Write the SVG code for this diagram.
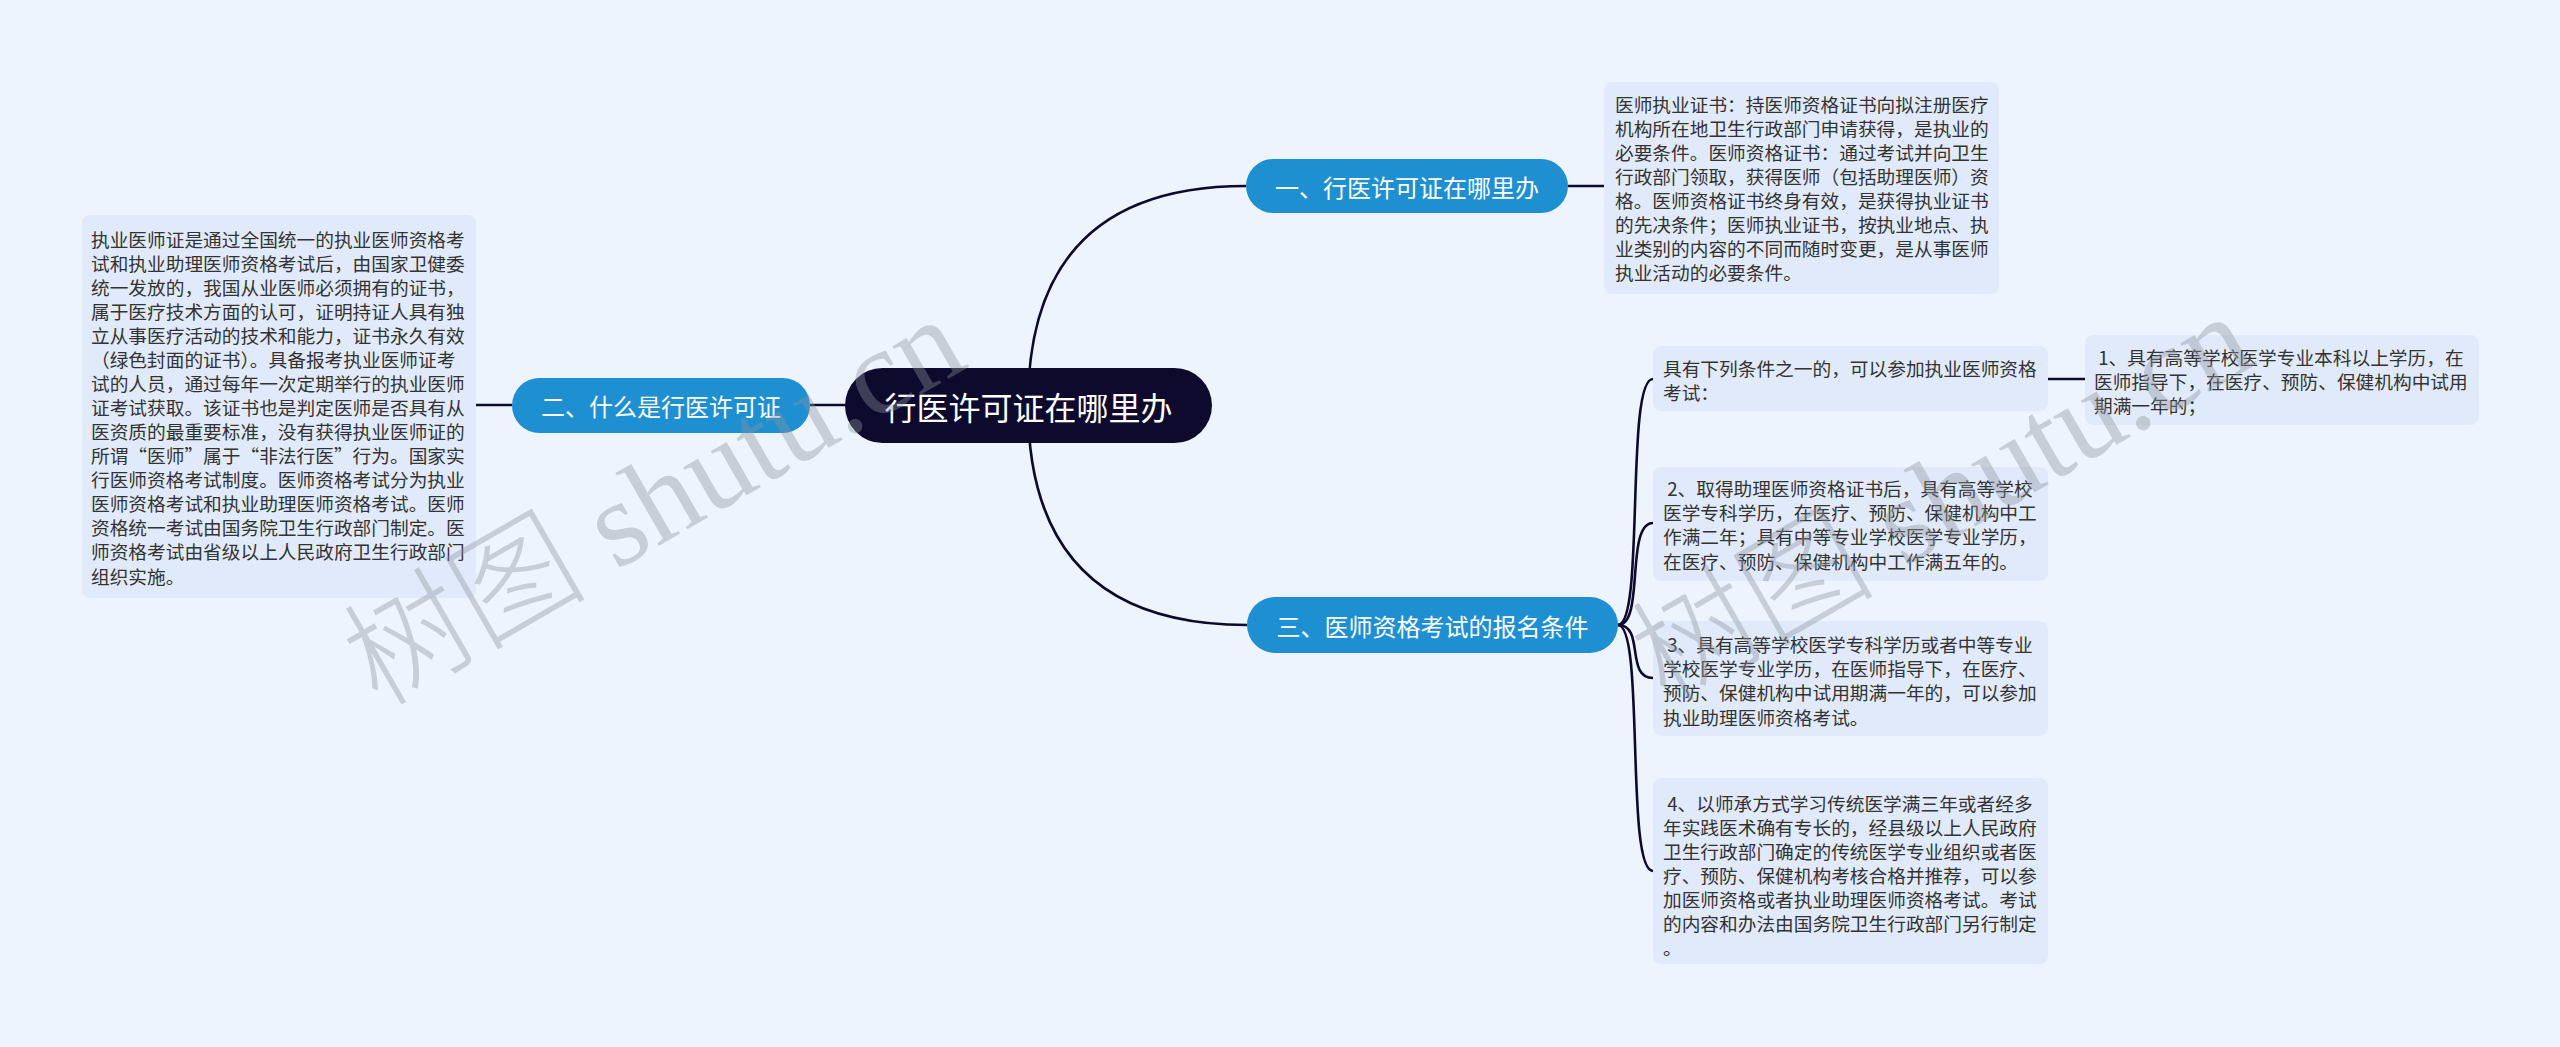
<svg xmlns="http://www.w3.org/2000/svg" width="2560" height="1047" viewBox="0 0 2560 1047">
<style>
.bg{fill:#eef4fe}
.leaf rect{fill:#e1eafa}
.leaf text{font-family:"Noto Sans CJK SC",sans-serif;font-size:18.7px;fill:#333;white-space:pre;dominant-baseline:central}
.branch rect{fill:#1e90d2}
.branch text{font-family:"Noto Sans CJK SC",sans-serif;font-size:24px;fill:#fff;text-anchor:middle;dominant-baseline:central}
.root rect{fill:#0e0a2d}
.root text{font-family:"Noto Sans CJK SC",sans-serif;font-size:32px;fill:#fff;text-anchor:middle;dominant-baseline:central}
#connectors path{fill:none;stroke:#0e0a2d;stroke-width:2.6}
.wm{font-size:122px;fill:#8c929c;opacity:.38}
.wm .cjk{font-family:"Noto Sans CJK SC",sans-serif;font-weight:300}
.wm .lat{font-family:"Liberation Serif",serif}
</style>
<rect class="bg" x="0" y="0" width="2560" height="1047"/>

<g id="connectors">
<path d="M1028 405 Q1028 186 1246 186"/>
<path d="M1028 405 Q1028 625 1247 625"/>
<path d="M810 405 L845 405"/>
<path d="M476 405 L512 405"/>
<path d="M1568 186 L1604 186"/>
<path d="M1618 625 C1645 625 1625 379 1653 379"/>
<path d="M1618 625 C1645 625 1625 523 1653 523"/>
<path d="M1618 625 C1645 625 1625 678 1653 678"/>
<path d="M1618 625 C1645 625 1625 871 1653 871"/>
<path d="M2048 379 L2085 379"/>
</g>

<g id="root" class="root">
<rect x="845" y="368" width="367" height="75" rx="37.5"/>
<text x="1028.5" y="405.5">行医许可证在哪里办</text>
</g>

<g id="branch1" class="branch">
<rect x="1246" y="159" width="322" height="54" rx="27"/>
<text x="1407" y="186">一、行医许可证在哪里办</text>
</g>

<g id="branch2" class="branch">
<rect x="512" y="378" width="298" height="55" rx="27.5"/>
<text x="661" y="405.5">二、什么是行医许可证</text>
</g>

<g id="branch3" class="branch">
<rect x="1247" y="597" width="371" height="56" rx="28"/>
<text x="1432.5" y="625">三、医师资格考试的报名条件</text>
</g>

<g id="leafA" class="leaf">
<rect x="1604" y="82" width="395" height="212" rx="8"/>
<text x="1615" y="103">医师执业证书：持医师资格证书向拟注册医疗</text>
<text x="1615" y="127.1">机构所在地卫生行政部门申请获得，是执业的</text>
<text x="1615" y="151.2">必要条件。医师资格证书：通过考试并向卫生</text>
<text x="1615" y="175.3">行政部门领取，获得医师（包括助理医师）资</text>
<text x="1615" y="199.4">格。医师资格证书终身有效，是获得执业证书</text>
<text x="1615" y="223.5">的先决条件；医师执业证书，按执业地点、执</text>
<text x="1615" y="247.6">业类别的内容的不同而随时变更，是从事医师</text>
<text x="1615" y="271.7">执业活动的必要条件。</text>
</g>

<g id="leafB" class="leaf">
<rect x="82" y="215" width="394" height="383" rx="8"/>
<text x="91" y="238">执业医师证是通过全国统一的执业医师资格考</text>
<text x="91" y="262.1">试和执业助理医师资格考试后，由国家卫健委</text>
<text x="91" y="286.1">统一发放的，我国从业医师必须拥有的证书，</text>
<text x="91" y="310.2">属于医疗技术方面的认可，证明持证人具有独</text>
<text x="91" y="334.3">立从事医疗活动的技术和能力，证书永久有效</text>
<text x="91" y="358.4">（绿色封面的证书）。具备报考执业医师证考</text>
<text x="91" y="382.4">试的人员，通过每年一次定期举行的执业医师</text>
<text x="91" y="406.5">证考试获取。该证书也是判定医师是否具有从</text>
<text x="91" y="430.6">医资质的最重要标准，没有获得执业医师证的</text>
<text x="91" y="454.6">所谓“医师”属于“非法行医”行为。国家实</text>
<text x="91" y="478.7">行医师资格考试制度。医师资格考试分为执业</text>
<text x="91" y="502.8">医师资格考试和执业助理医师资格考试。医师</text>
<text x="91" y="526.8">资格统一考试由国务院卫生行政部门制定。医</text>
<text x="91" y="550.9">师资格考试由省级以上人民政府卫生行政部门</text>
<text x="91" y="575">组织实施。</text>
</g>

<g id="leafC" class="leaf">
<rect x="1653" y="346" width="395" height="65" rx="8"/>
<text x="1663" y="367">具有下列条件之一的，可以参加执业医师资格</text>
<text x="1663" y="391">考试：</text>
</g>

<g id="leafD" class="leaf">
<rect x="2085" y="335" width="394" height="90" rx="8"/>
<text x="2094" y="356"> 1、具有高等学校医学专业本科以上学历，在</text>
<text x="2094" y="380">医师指导下，在医疗、预防、保健机构中试用</text>
<text x="2094" y="404">期满一年的；</text>
</g>

<g id="leafE" class="leaf">
<rect x="1653" y="467" width="395" height="114" rx="8"/>
<text x="1663" y="487"> 2、取得助理医师资格证书后，具有高等学校</text>
<text x="1663" y="511.3">医学专科学历，在医疗、预防、保健机构中工</text>
<text x="1663" y="535.6">作满二年；具有中等专业学校医学专业学历，</text>
<text x="1663" y="560">在医疗、预防、保健机构中工作满五年的。</text>
</g>

<g id="leafF" class="leaf">
<rect x="1653" y="621" width="395" height="115" rx="8"/>
<text x="1663" y="643"> 3、具有高等学校医学专科学历或者中等专业</text>
<text x="1663" y="667.3">学校医学专业学历，在医师指导下，在医疗、</text>
<text x="1663" y="691.6">预防、保健机构中试用期满一年的，可以参加</text>
<text x="1663" y="716">执业助理医师资格考试。</text>
</g>

<g id="leafG" class="leaf">
<rect x="1653" y="778" width="395" height="186" rx="8"/>
<text x="1663" y="802"> 4、以师承方式学习传统医学满三年或者经多</text>
<text x="1663" y="826">年实践医术确有专长的，经县级以上人民政府</text>
<text x="1663" y="850">卫生行政部门确定的传统医学专业组织或者医</text>
<text x="1663" y="874">疗、预防、保健机构考核合格并推荐，可以参</text>
<text x="1663" y="898">加医师资格或者执业助理医师资格考试。考试</text>
<text x="1663" y="922">的内容和办法由国务院卫生行政部门另行制定</text>
<text x="1663" y="946">。</text>
</g>

<g id="watermarks">
<text class="wm" transform="translate(378 708) rotate(-30)"><tspan class="cjk">树图</tspan><tspan class="lat"> shutu.cn</tspan></text>
<text class="wm" transform="translate(1666 705) rotate(-30)"><tspan class="cjk">树图</tspan><tspan class="lat"> shutu.cn</tspan></text>
</g>
</svg>
